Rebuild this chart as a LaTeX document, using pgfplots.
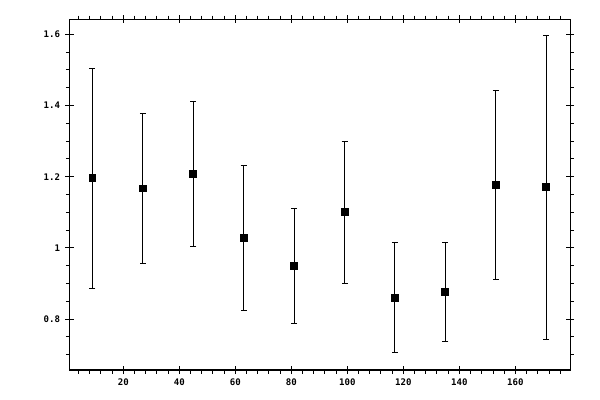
\documentclass[border=0pt]{standalone}
\usepackage{pgfplots}
\pgfplotsset{compat=1.18}
\usepackage{fontspec}
\setmonofont{DejaVu Sans Mono}
\pgfplotsset{
  refbox/.style={
    at={(0,0)}, anchor=south west,
    scale only axis,
    width=375.4pt, height=262.9pt,
    xmin=0.8, xmax=179.5,
    ymin=0.657, ymax=1.642,
    xtick={20,40,...,160},
    ytick={0.8,1,1.2,1.4,1.6},
    every tick/.style={black, line width=0.75pt},
  }
}
\begin{document}
\begin{tikzpicture}
\useasboundingbox (-52.125pt,-22.5pt) rectangle (397.875pt,277.5pt);
% inner halves of the major ticks
\begin{axis}[refbox,
  tick align=inside,
  major tick length=3pt,
  axis line style={draw=none},
  xticklabels={}, yticklabels={},
]
\end{axis}
\begin{axis}[refbox,
  minor xtick={4,8,...,176},
  minor ytick={0.7,0.75,...,1.61},
  tick align=outside,
  major tick length=3pt,
  minor tick length=2.8pt,
  axis line style={line width=0.75pt},
  /pgf/number format/assume math mode=true,
  tick label style={font=\fontsize{6.8}{7}\selectfont\ttfamily\bfseries},
  yticklabel style={xshift=-0.5pt},
]
\addplot[black, line width=0.75pt, only marks,
  mark=square*, mark size=2.6pt,
  error bars/.cd, y dir=both, y explicit,
  error bar style={line width=0.75pt},
  error mark options={rotate=90, line width=0.75pt, mark size=2.25pt}]
coordinates {
(9,1.1955) +- (0,0.310)
(27,1.167) +- (0,0.211)
(45,1.208) +- (0,0.204)
(63,1.029) +- (0,0.204)
(81,0.950) +- (0,0.162)
(99,1.100) +- (0,0.200)
(117,0.860) +- (0,0.155)
(135,0.877) +- (0,0.139)
(153,1.176) +- (0,0.265)
(171,1.170) +- (0,0.428)
};
\end{axis}
\end{tikzpicture}
\end{document}
